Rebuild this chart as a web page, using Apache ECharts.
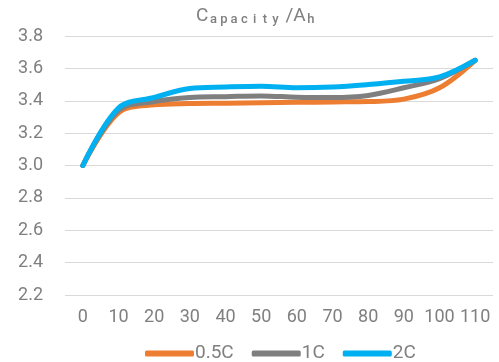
<!DOCTYPE html>
<html><head><meta charset="utf-8">
<script src="https://cdn.jsdelivr.net/npm/echarts@6/dist/echarts.min.js"></script>
<style>html,body{margin:0;padding:0;background:#fff}#c{width:499px;height:362px}</style>
</head><body><div id="c"></div>
<script>
const categories = ['0','10','20','30','40','50','60','70','80','90','100','110'];
const s05C = [3.00, 3.325, 3.375, 3.383, 3.385, 3.388, 3.39, 3.393, 3.395, 3.41, 3.48, 3.65];
const s1C  = [3.00, 3.34, 3.395, 3.42, 3.425, 3.43, 3.422, 3.42, 3.433, 3.48, 3.537, 3.65];
const s2C  = [3.00, 3.355, 3.42, 3.476, 3.485, 3.49, 3.48, 3.485, 3.50, 3.52, 3.547, 3.65];
const yTicks = {min: 2.2, max: 3.8, interval: 0.2};
const names = ['0.5C', '1C', '2C'];
const titleBig1 = 'C', titleSmall1 = 'apacity', titleBig2 = '/A', titleSmall2 = 'h';
const colors = ['#ED7D31', '#7F7F7F', '#00B0F0'];
const chart = echarts.init(document.getElementById('c'));
const mk = (name, data, color) => ({
  name, type: 'line', data, smooth: 0.35, showSymbol: false, symbol: 'none',
  lineStyle: {width: 5, color, cap: 'round', join: 'round'}, itemStyle: {color}
});
const small = s => s.split('').map(ch => '{l|' + ch + '}').join('');
const TC = '#7f7f7f';
chart.setOption({
  animation: false,
  title: {
    text: '{a|' + titleBig1 + '}' + small(titleSmall1) + '{sp| }{a|' + titleBig2 + '}' + small(titleSmall2),
    left: 191, top: -1,
    textStyle: {
      rich: {
        a: {fontSize: 19, color: TC, fontFamily: 'Roboto', fontWeight: 'normal', verticalAlign: 'bottom', lineHeight: 22},
        l: {fontSize: 13, color: TC, fontFamily: 'Roboto', fontWeight: 500, width: 10.3, align: 'center', verticalAlign: 'bottom', lineHeight: 22},
        sp: {fontSize: 11, width: 5, lineHeight: 22}
      }
    }
  },
  legend: {
    top: 339, left: 140, icon: 'roundRect', itemWidth: 49, itemHeight: 6, itemGap: 18,
    textStyle: {fontSize: 19, color: TC, fontFamily: 'Roboto', padding: [0, 0, 0, -4]},
    data: names
  },
  grid: {left: 65, right: 6, top: 36, bottom: 67},
  xAxis: {
    type: 'category', data: categories, boundaryGap: true,
    axisLine: {show: false}, axisTick: {show: false},
    axisLabel: {fontSize: 18, color: TC, fontFamily: 'Roboto', margin: 13, interval: 0, hideOverlap: false}
  },
  yAxis: {
    type: 'value', min: yTicks.min, max: yTicks.max, interval: yTicks.interval,
    axisLine: {show: false}, axisTick: {show: false},
    axisLabel: {fontSize: 18, color: TC, fontFamily: 'Roboto', margin: 22, formatter: v => v.toFixed(1)},
    splitLine: {lineStyle: {color: '#d9d9d9', width: 1}}
  },
  series: [mk(names[0], s05C, colors[0]), mk(names[1], s1C, colors[1]), mk(names[2], s2C, colors[2])]
});
</script></body></html>
